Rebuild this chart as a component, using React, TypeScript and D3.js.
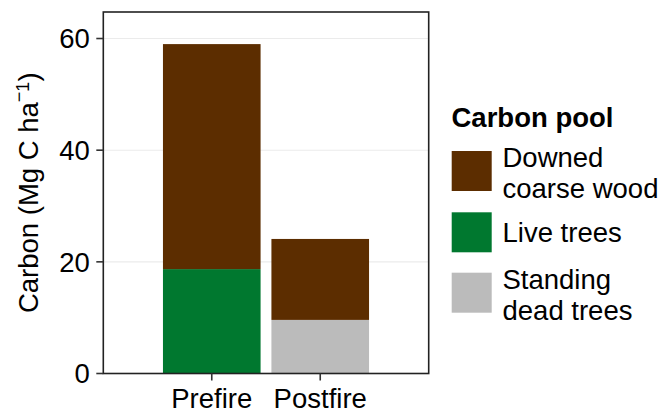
import React from "react";
import * as d3 from "d3";

const categories = ["Prefire", "Postfire"];
const pools = ["Standing dead trees", "Live trees", "Downed coarse wood"];
const standingDead = [0, 9.6];
const liveTrees = [18.7, 0];
const downedWood = [40.3, 14.5];
const yTicks = [0, 20, 40, 60];
const legendOrder = ["Downed coarse wood", "Live trees", "Standing dead trees"];
const legendLines: Record<string, string[]> = {
  "Downed coarse wood": ["Downed", "coarse wood"],
  "Live trees": ["Live trees"],
  "Standing dead trees": ["Standing", "dead trees"],
};
const colors: Record<string, string> = {
  "Downed coarse wood": "#5C2D00",
  "Live trees": "#00782F",
  "Standing dead trees": "#BBBBBB",
};

export default function App() {
  const W = 658, H = 409;
  const left = 103.3, right = 428.7, top = 12, bottom = 373.5;
  const font = "Liberation Sans, Arial, sans-serif";
  const fs = 27.5;

  const x = d3.scaleLinear().domain([0, 3]).range([left, right]);
  const y = d3.scaleLinear().domain([0, 64.75]).range([bottom, top]);

  const rows = categories.map((c, i) => ({
    cat: c,
    "Standing dead trees": standingDead[i],
    "Live trees": liveTrees[i],
    "Downed coarse wood": downedWood[i],
  }));
  const stack = d3.stack<any>().keys(pools)(rows);
  const barW = 0.9;

  const legendKeys = [
    { key: legendOrder[0], top: 151 },
    { key: legendOrder[1], top: 212.3 },
    { key: legendOrder[2], top: 272.7 },
  ];

  return (
    <svg width={W} height={H} style={{ position: "absolute", left: 0, top: 0, background: "#fff" }}>
      <rect x={0} y={0} width={W} height={H} fill="#fff" />
      {yTicks.map((t) => (
        <line key={"g" + t} x1={left} x2={right} y1={y(t)} y2={y(t)} stroke="#EBEBEB" strokeWidth={1.1} />
      ))}
      {stack.map((s) =>
        s.map((d, i) =>
          d[1] - d[0] > 0 ? (
            <rect
              key={s.key + i}
              x={x(i + 1 - barW / 2)}
              width={x(i + 1 + barW / 2) - x(i + 1 - barW / 2)}
              y={y(d[1])}
              height={y(d[0]) - y(d[1])}
              fill={colors[s.key]}
            />
          ) : null
        )
      )}
      <rect x={left} y={top} width={right - left} height={bottom - top} fill="none" stroke="#222" strokeWidth={1.6} />
      {yTicks.map((t) => (
        <g key={"t" + t}>
          <line x1={left - 7} x2={left} y1={y(t)} y2={y(t)} stroke="#333" strokeWidth={1.6} />
          <text x={left - 13.5} y={y(t)} dy="0.36em" textAnchor="end" fontFamily={font} fontSize={fs} fill="#000">
            {t}
          </text>
        </g>
      ))}
      {categories.map((c, i) => (
        <g key={c}>
          <line x1={x(i + 1)} x2={x(i + 1)} y1={bottom} y2={bottom + 7} stroke="#333" strokeWidth={1.6} />
          <text x={x(i + 1)} y={407.5} textAnchor="middle" fontFamily={font} fontSize={fs} fill="#000">
            {c}
          </text>
        </g>
      ))}
      <text
        transform={`translate(38, ${(top + bottom) / 2}) rotate(-90)`}
        textAnchor="middle"
        fontFamily={font}
        fontSize={fs}
        fill="#000"
      >
        Carbon (Mg C ha
        <tspan dy={-13} fontSize={18}>−</tspan>
        <tspan dy={4} fontSize={18}>1</tspan>
        <tspan dy={9}>)</tspan>
      </text>
      <text x={451.5} y={126.5} fontFamily={font} fontSize={fs} fontWeight="bold" fill="#000">
        Carbon pool
      </text>
      {legendKeys.map((k) => {
        const lines = legendLines[k.key];
        const c = k.top + 20;
        const sp = 31;
        const first = lines.length === 1 ? c + 9.6 : c - 3.8;
        return (
          <g key={k.key}>
            <rect x={451.7} y={k.top} width={40} height={40} fill={colors[k.key]} />
            {lines.map((ln, j) => (
              <text key={ln} x={502.5} y={first + j * sp} fontFamily={font} fontSize={fs} fill="#000">
                {ln}
              </text>
            ))}
          </g>
        );
      })}
    </svg>
  );
}
